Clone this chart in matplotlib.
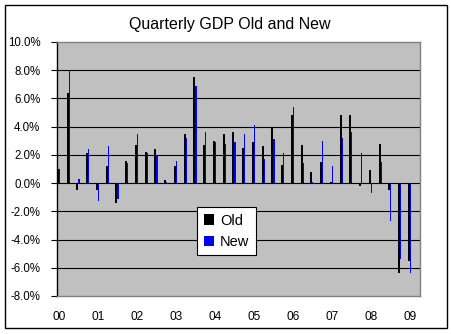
import numpy as np
import matplotlib
matplotlib.use("Agg")
import matplotlib.pyplot as plt
from matplotlib.patches import Patch, Rectangle

plt.rcParams['font.family'] = ['Liberation Sans', 'DejaVu Sans']

# quarterly real GDP growth, annualized %, 2000Q1 .. 2009Q2
old = [1.0, 6.4, -0.5, 2.1, -0.5, 1.2, -1.4, 1.6, 2.7, 2.2, 2.4, 0.2,
       1.2, 3.5, 7.5, 2.7, 3.0, 3.5, 3.6, 2.5, 2.9, 2.6, 3.9, 1.3,
       4.8, 2.7, 0.8, 1.5, 0.1, 4.8, 4.8, -0.2, 0.9, 2.8, -0.5, -6.4,
       -5.5, np.nan]
new = [1.0, 8.0, 0.3, 2.4, -1.3, 2.6, -1.1, 1.4, 3.5, 2.1, 2.0, 0.1,
       1.6, 3.2, 6.9, 3.6, 2.9, 2.8, 2.9, 3.5, 4.1, 1.7, 3.1, 2.1,
       5.4, 1.4, 0.1, 3.0, 1.2, 3.2, 3.6, 2.1, -0.7, 1.5, -2.7, -5.4,
       -6.4, -1.0]
years = ['00', '01', '02', '03', '04', '05', '06', '07', '08', '09']

x = np.arange(len(new))

fig = plt.figure(figsize=(4.51, 3.34), dpi=100)
fig.patch.set_facecolor('white')
fig.patches.append(Rectangle((5 / 451, 6 / 334), 442 / 451, 323 / 334,
                             transform=fig.transFigure, fill=False,
                             edgecolor='black', linewidth=1.0))

ax = fig.add_axes([57 / 451, 38 / 334, 363 / 451, 254 / 334])
ax.set_facecolor('#C0C0C0')

for y in range(-6, 10, 2):
    ax.axhline(y, color='black', linewidth=0.8, zorder=1)

ax.bar(x - 0.1, old, width=0.2, color='black', antialiased=False, zorder=2)
ax.bar(x + 0.06, new, width=0.12, color='#0000FF', antialiased=False, zorder=3)

ax.set_xlim(-0.2, 37.05)
ax.set_ylim(-8, 10)
ax.set_yticks(range(-8, 11, 2))
ax.set_yticklabels(['%.1f%%' % v for v in range(-8, 11, 2)])
ax.set_xticks(range(0, 37, 4))
ax.set_xticklabels(years)
ax.tick_params(axis='y', direction='out', length=4, width=0.8, pad=8,
               labelsize=8.3)
ax.tick_params(axis='x', length=0, pad=10.5, labelsize=8.6)

for side in ['top', 'right', 'bottom']:
    ax.spines[side].set_color('#808080')
    ax.spines[side].set_linewidth(1.0)
ax.spines['left'].set_color('black')
ax.spines['left'].set_linewidth(1.0)

fig.text(230 / 451, 1 - 24 / 334, 'Quarterly GDP Old and New',
         ha='center', va='center', fontsize=11.5)

handles = [Patch(facecolor='black', edgecolor='none', label='Old'),
           Patch(facecolor='#0000FF', edgecolor='none', label='New')]
leg = fig.legend(handles=handles, loc='upper left',
                 bbox_to_anchor=(197 / 451, 1 - 207 / 334),
                 fontsize=10.5, frameon=True, fancybox=False,
                 handlelength=0.72, handleheight=0.72, handletextpad=0.4,
                 labelspacing=0.5, borderpad=0.45, borderaxespad=0)
leg.get_frame().set_edgecolor('black')
leg.get_frame().set_linewidth(0.8)
leg.get_frame().set_facecolor('white')
leg.get_frame().set_alpha(1)

fig.savefig('out.png', dpi=100)
